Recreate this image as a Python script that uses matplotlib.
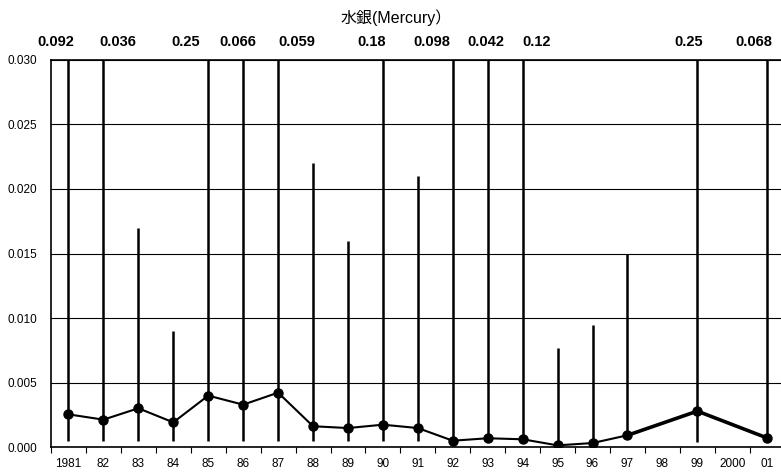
import matplotlib
matplotlib.use("Agg")
import matplotlib.pyplot as plt
import numpy as np

plt.rcParams["font.family"] = ["Liberation Sans", "Noto Sans CJK JP"]

# ── Data ─────────────────────────────────────────────────────────────────────
years = ["1981", "82", "83", "84", "85", "86", "87", "88", "89", "90", "91",
         "92", "93", "94", "95", "96", "97", "98", "99", "2000", "01"]
nan = np.nan
mean_val = [0.00255, 0.00214, 0.00302, 0.00193, 0.0040, 0.0033, 0.00423,
            0.00163, 0.00149, 0.00175, 0.00149, 0.00051, 0.0007, 0.00062,
            0.00015, 0.00033, 0.00093, nan, 0.0028, nan, 0.00072]
min_val = [0.0005, 0.0005, 0.0005, 0.0005, 0.0005, 0.0005, 0.0005,
           0.0005, 0.0005, 0.0005, 0.0005, 0.0005, 0.0005, 0.0005,
           0.0001, 0.0003, 0.0009, nan, 0.0004, nan, 0.0008]
max_val = [0.092, 0.036, 0.017, 0.009, 0.25, 0.066, 0.059,
           0.022, 0.016, 0.18, 0.021, 0.098, 0.042, 0.12,
           0.0077, 0.0095, 0.015, nan, 0.25, nan, 0.068]
# horizontal nudge (pixels) of the max labels that sit above the frame
label_dx = [-13, 14, 0, 0, -23, -5, 19, 0, 0, -11, 0,
            -21, -2, 14, 0, 0, 0, 0, -9, 0, -13]

YMAX = 0.030

# ── Figure ───────────────────────────────────────────────────────────────────
W, H = 781, 472
fig = plt.figure(figsize=(W / 100, H / 100), dpi=100)
left, right, top, bottom = 51, 784.7, 59.7, 447.3
ax = fig.add_axes([left / W, (H - bottom) / H, (right - left) / W, (bottom - top) / H])

x = np.arange(len(years))
mean_arr = np.array(mean_val)
min_arr = np.array(min_val)
max_arr = np.array(max_val)

# grid
ax.set_ylim(0, YMAX)
ax.set_xlim(-0.5, len(years) - 0.5)
ax.set_yticks(np.arange(0, YMAX + 1e-9, 0.005))
ax.yaxis.grid(True, color="black", linewidth=0.8)
ax.set_axisbelow(True)

# min-max range lines
ok = ~np.isnan(max_arr)
ax.vlines(x[ok], min_arr[ok], max_arr[ok], color="black", linewidth=1.8, zorder=2)

# mean line
valid = ~np.isnan(mean_arr)
xv, yv = x[valid], mean_arr[valid]
ax.plot(xv, yv, color="black", linewidth=1.5, marker="o", markersize=6.5, zorder=3)
for i in range(len(xv) - 1):
    if xv[i + 1] - xv[i] > 1:
        ax.plot(xv[i:i + 2], yv[i:i + 2], color="black", linewidth=2.6, zorder=3)

# values that run off the top of the scale
for xi, mx, dx in zip(x, max_val, label_dx):
    if not np.isnan(mx) and mx > YMAX:
        ax.annotate(f"{mx:g}", xy=(xi, 0.03135), xytext=(dx, 0),
                    textcoords="offset pixels", ha="center", va="center",
                    fontsize=10.5, fontweight="bold", annotation_clip=False)

# axes styling
ax.set_xticks(x)
ax.set_xticklabels(years)
ax.set_xticks(np.arange(-0.5, len(years), 1), minor=True)
ax.tick_params(axis="x", which="major", length=0, labelsize=8.5, pad=8)
ax.tick_params(axis="x", which="minor", length=4, width=0.8, direction="out")
ax.tick_params(axis="y", length=0, labelsize=8.5, pad=10)
ax.set_yticklabels([f"{v:.3f}" for v in ax.get_yticks()])
for s in ("left", "bottom", "top"):
    ax.spines[s].set_linewidth(1.2)
ax.spines["right"].set_visible(False)

fig.text(396 / W, 1 - 18 / H, "水銀(Mercury）", ha="center", va="center", fontsize=11.5)

fig.savefig("out.png", dpi=100, facecolor="white")
plt.close()
